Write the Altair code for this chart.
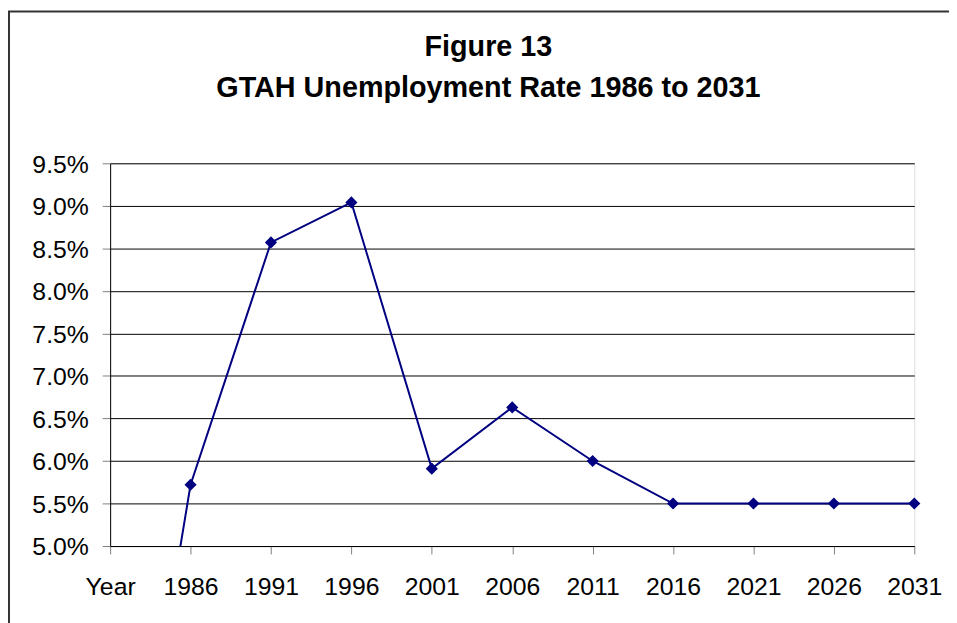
import altair as alt
import pandas as pd

years = ["Year", "1986", "1991", "1996", "2001", "2006", "2011", "2016", "2021", "2026", "2031"]
rates_pct = [0.0, 5.72, 8.57, 9.04, 5.91, 6.63, 6.00, 5.50, 5.50, 5.50, 5.50]

df = pd.DataFrame({"year": years, "rate": [r / 100 for r in rates_pct]})

FONT = "Liberation Sans"
NAVY = "#000080"

x_enc = alt.X(
    "year:N",
    sort=years,
    scale=alt.Scale(type="point", padding=0),
    axis=alt.Axis(
        title=None, labelAngle=0, labelFont=FONT, labelFontSize=25, labelColor="black",
        tickColor="#808080", tickSize=8, domainColor="black", grid=False, labelPadding=21,
        labelOverlap=False,
    ),
)
y_enc = alt.Y(
    "rate:Q",
    scale=alt.Scale(domain=[0.05, 0.095], nice=False, zero=False),
    axis=alt.Axis(
        title=None, format=".1%", values=[0.05 + 0.005 * i for i in range(10)],
        labelFont=FONT, labelFontSize=25, labelColor="black", tickColor="#808080",
        tickSize=8, labelPadding=14, domainColor="black", gridColor="black",
        gridWidth=1, labelOffset=1,
    ),
)

base = alt.Chart(df)
line = base.mark_line(color=NAVY, strokeWidth=2, clip=True).encode(x=x_enc, y=y_enc)
points = base.transform_filter(alt.datum.year != "Year").mark_point(
    shape="diamond", filled=True, color=NAVY, size=150, opacity=1
).encode(x=alt.X("year:N", sort=years), y="rate:Q")

border_df = pd.DataFrame({"k": [0]})
left_border = alt.Chart(border_df).mark_rule(color="#333333", strokeWidth=2).encode(
    x=alt.value(-102), y=alt.value(-153), y2=alt.value(470)
)
top_border = alt.Chart(border_df).mark_rule(color="#333333", strokeWidth=2).encode(
    x=alt.value(-103), x2=alt.value(850), y=alt.value(-153)
)

chart = alt.layer(line, points, left_border, top_border).properties(
    width=811,
    height=386,
    autosize=alt.AutoSizeParams(type="none"),
    padding={"left": 103, "top": 154, "right": 35, "bottom": 75},
    title=alt.TitleParams(
        text=["Figure 13", "GTAH Unemployment Rate 1986 to 2031"],
        font=FONT, fontSize=29, fontWeight="bold", color="black",
        lineHeight=41, anchor="middle", dx=-24, offset=-93,
    ),
).configure_view(stroke="black", strokeWidth=1).configure(background="white")

chart.save("out.html", embed_options={"renderer": "svg", "actions": False})
